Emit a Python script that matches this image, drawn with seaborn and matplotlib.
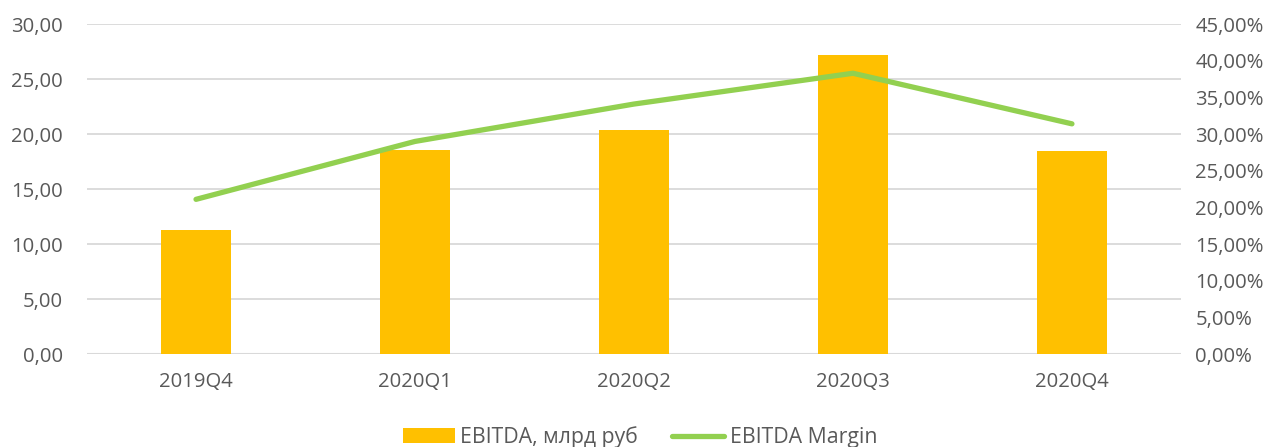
import pandas as pd
import matplotlib
matplotlib.use("Agg")
import matplotlib.pyplot as plt
import seaborn as sns
from matplotlib.ticker import FuncFormatter, MultipleLocator
from matplotlib.lines import Line2D
from matplotlib.patches import Patch

# data
quarters = ["2019Q4", "2020Q1", "2020Q2", "2020Q3", "2020Q4"]
ebitda = [11.25, 18.55, 20.4, 27.2, 18.45]         # bln rub
margin = [0.211, 0.290, 0.341, 0.383, 0.314]       # share

df = pd.DataFrame({"quarter": quarters, "ebitda": ebitda, "margin": margin})

sns.set_theme(style="white")
plt.rcParams["font.family"] = ["Open Sans", "DejaVu Sans"]

text_color = "#595959"
grid_color = "#d9d9d9"
bar_color = "#FFC000"
line_color = "#92D050"

fig = plt.figure(figsize=(12.8, 4.47), dpi=100)
ax = fig.add_axes([0.0676, 0.208, 0.8554, 0.738])

sns.barplot(data=df, x="quarter", y="ebitda", color=bar_color, width=0.32,
            saturation=1, linewidth=0, ax=ax, zorder=2)
ax.set_ylim(0, 30)
ax.set_xlim(-0.5, 4.5)
ax.yaxis.set_major_locator(MultipleLocator(5))
ax.yaxis.set_major_formatter(FuncFormatter(lambda v, p: f"{v:.2f}".replace(".", ",")))
ax.grid(axis="y", color=grid_color, linewidth=1.3, zorder=0)
ax.set_axisbelow(True)

ax2 = ax.twinx()
sns.lineplot(data=df, x="quarter", y="margin", color=line_color, linewidth=3.8,
             ax=ax2, solid_capstyle="round")
ax2.set_ylim(0, 0.45)
ax2.yaxis.set_major_locator(MultipleLocator(0.05))
ax2.yaxis.set_major_formatter(FuncFormatter(lambda v, p: f"{v * 100:.2f}%".replace(".", ",")))

for a in (ax, ax2):
    for s in ("top", "left", "right", "bottom"):
        a.spines[s].set_visible(False)
    a.set_xlabel("")
    a.set_ylabel("")
    a.tick_params(length=0, labelsize=14.6, labelcolor=text_color)
ax.axhline(0, color=grid_color, linewidth=1.5, zorder=1)
ax.tick_params(axis="y", pad=17)
ax.tick_params(axis="x", pad=13)
ax2.tick_params(axis="y", pad=10)

handles = [Patch(facecolor=bar_color, edgecolor="none"),
           Line2D([0], [0], color=line_color, linewidth=3.8, solid_capstyle="round")]
fig.legend(handles, ["EBITDA, млрд руб", "EBITDA Margin"], loc="center",
           bbox_to_anchor=(0.5, 0.022), ncol=2, frameon=False, fontsize=15.3,
           labelcolor=text_color, handlelength=2.45, handletextpad=0.25,
           columnspacing=1.6)

fig.savefig("out.png", dpi=100)
